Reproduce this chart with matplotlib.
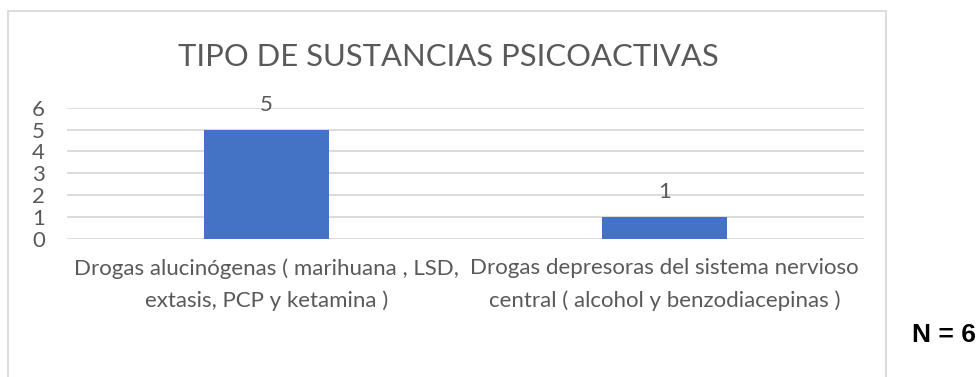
import matplotlib.pyplot as plt
from matplotlib.patches import Rectangle

# datos
categorias = ["Drogas alucinógenas ( marihuana , LSD,\nextasis, PCP y ketamina )",
              "Drogas depresoras del sistema nervioso\ncentral ( alcohol y benzodiacepinas )"]
valores = [5, 1]
yticks = [0, 1, 2, 3, 4, 5, 6]
titulo = "TIPO DE SUSTANCIAS PSICOACTIVAS"
nota = "N = 6"

azul = "#4472C4"
gris_texto = "#595959"
gris_linea = "#D9D9D9"

plt.rcParams["font.family"] = ["Lato", "DejaVu Sans"]

W, H = 978, 377
fig = plt.figure(figsize=(W / 100, H / 100), dpi=100)
ax = fig.add_axes([67 / W, 1 - 239 / H, (864 - 67) / W, (239 - 107.7) / H])

x = list(range(len(valores)))
bars = ax.bar(x, valores, width=0.314, color=azul, zorder=3)
ax.set_xlim(-0.5, 1.5)
ax.set_ylim(0, 6)
ax.set_yticks(yticks)
ax.yaxis.grid(True, color=gris_linea, linewidth=1.3, zorder=0)
ax.set_axisbelow(True)
for s in ax.spines.values():
    s.set_visible(False)
ax.tick_params(length=0, labelsize=16, colors=gris_texto)
ax.tick_params(axis="y", pad=16)
ax.set_xticks(x)
ax.set_xticklabels(categorias, linespacing=1.7)
ax.tick_params(axis="x", pad=14)

for xi, v in zip(x, valores):
    ax.annotate(str(v), (xi, v), xytext=(0, 18), textcoords="offset points",
                ha="center", va="center", fontsize=16, color=gris_texto)

fig.text(448 / W, 1 - 57 / H, titulo, ha="center", va="center",
         fontsize=22.3, color=gris_texto)

# marco del grafico
marco = Rectangle((8 / W, -0.05), 878 / W, 1.05 - 11 / H, transform=fig.transFigure,
                  fill=False, edgecolor=gris_linea, linewidth=1.3)
fig.add_artist(marco)

fig.text(944 / W, 1 - 335 / H, nota, ha="center", va="center", fontsize=19,
         fontweight="bold", family="Liberation Sans", color="black")

fig.savefig("out.png", dpi=100)
